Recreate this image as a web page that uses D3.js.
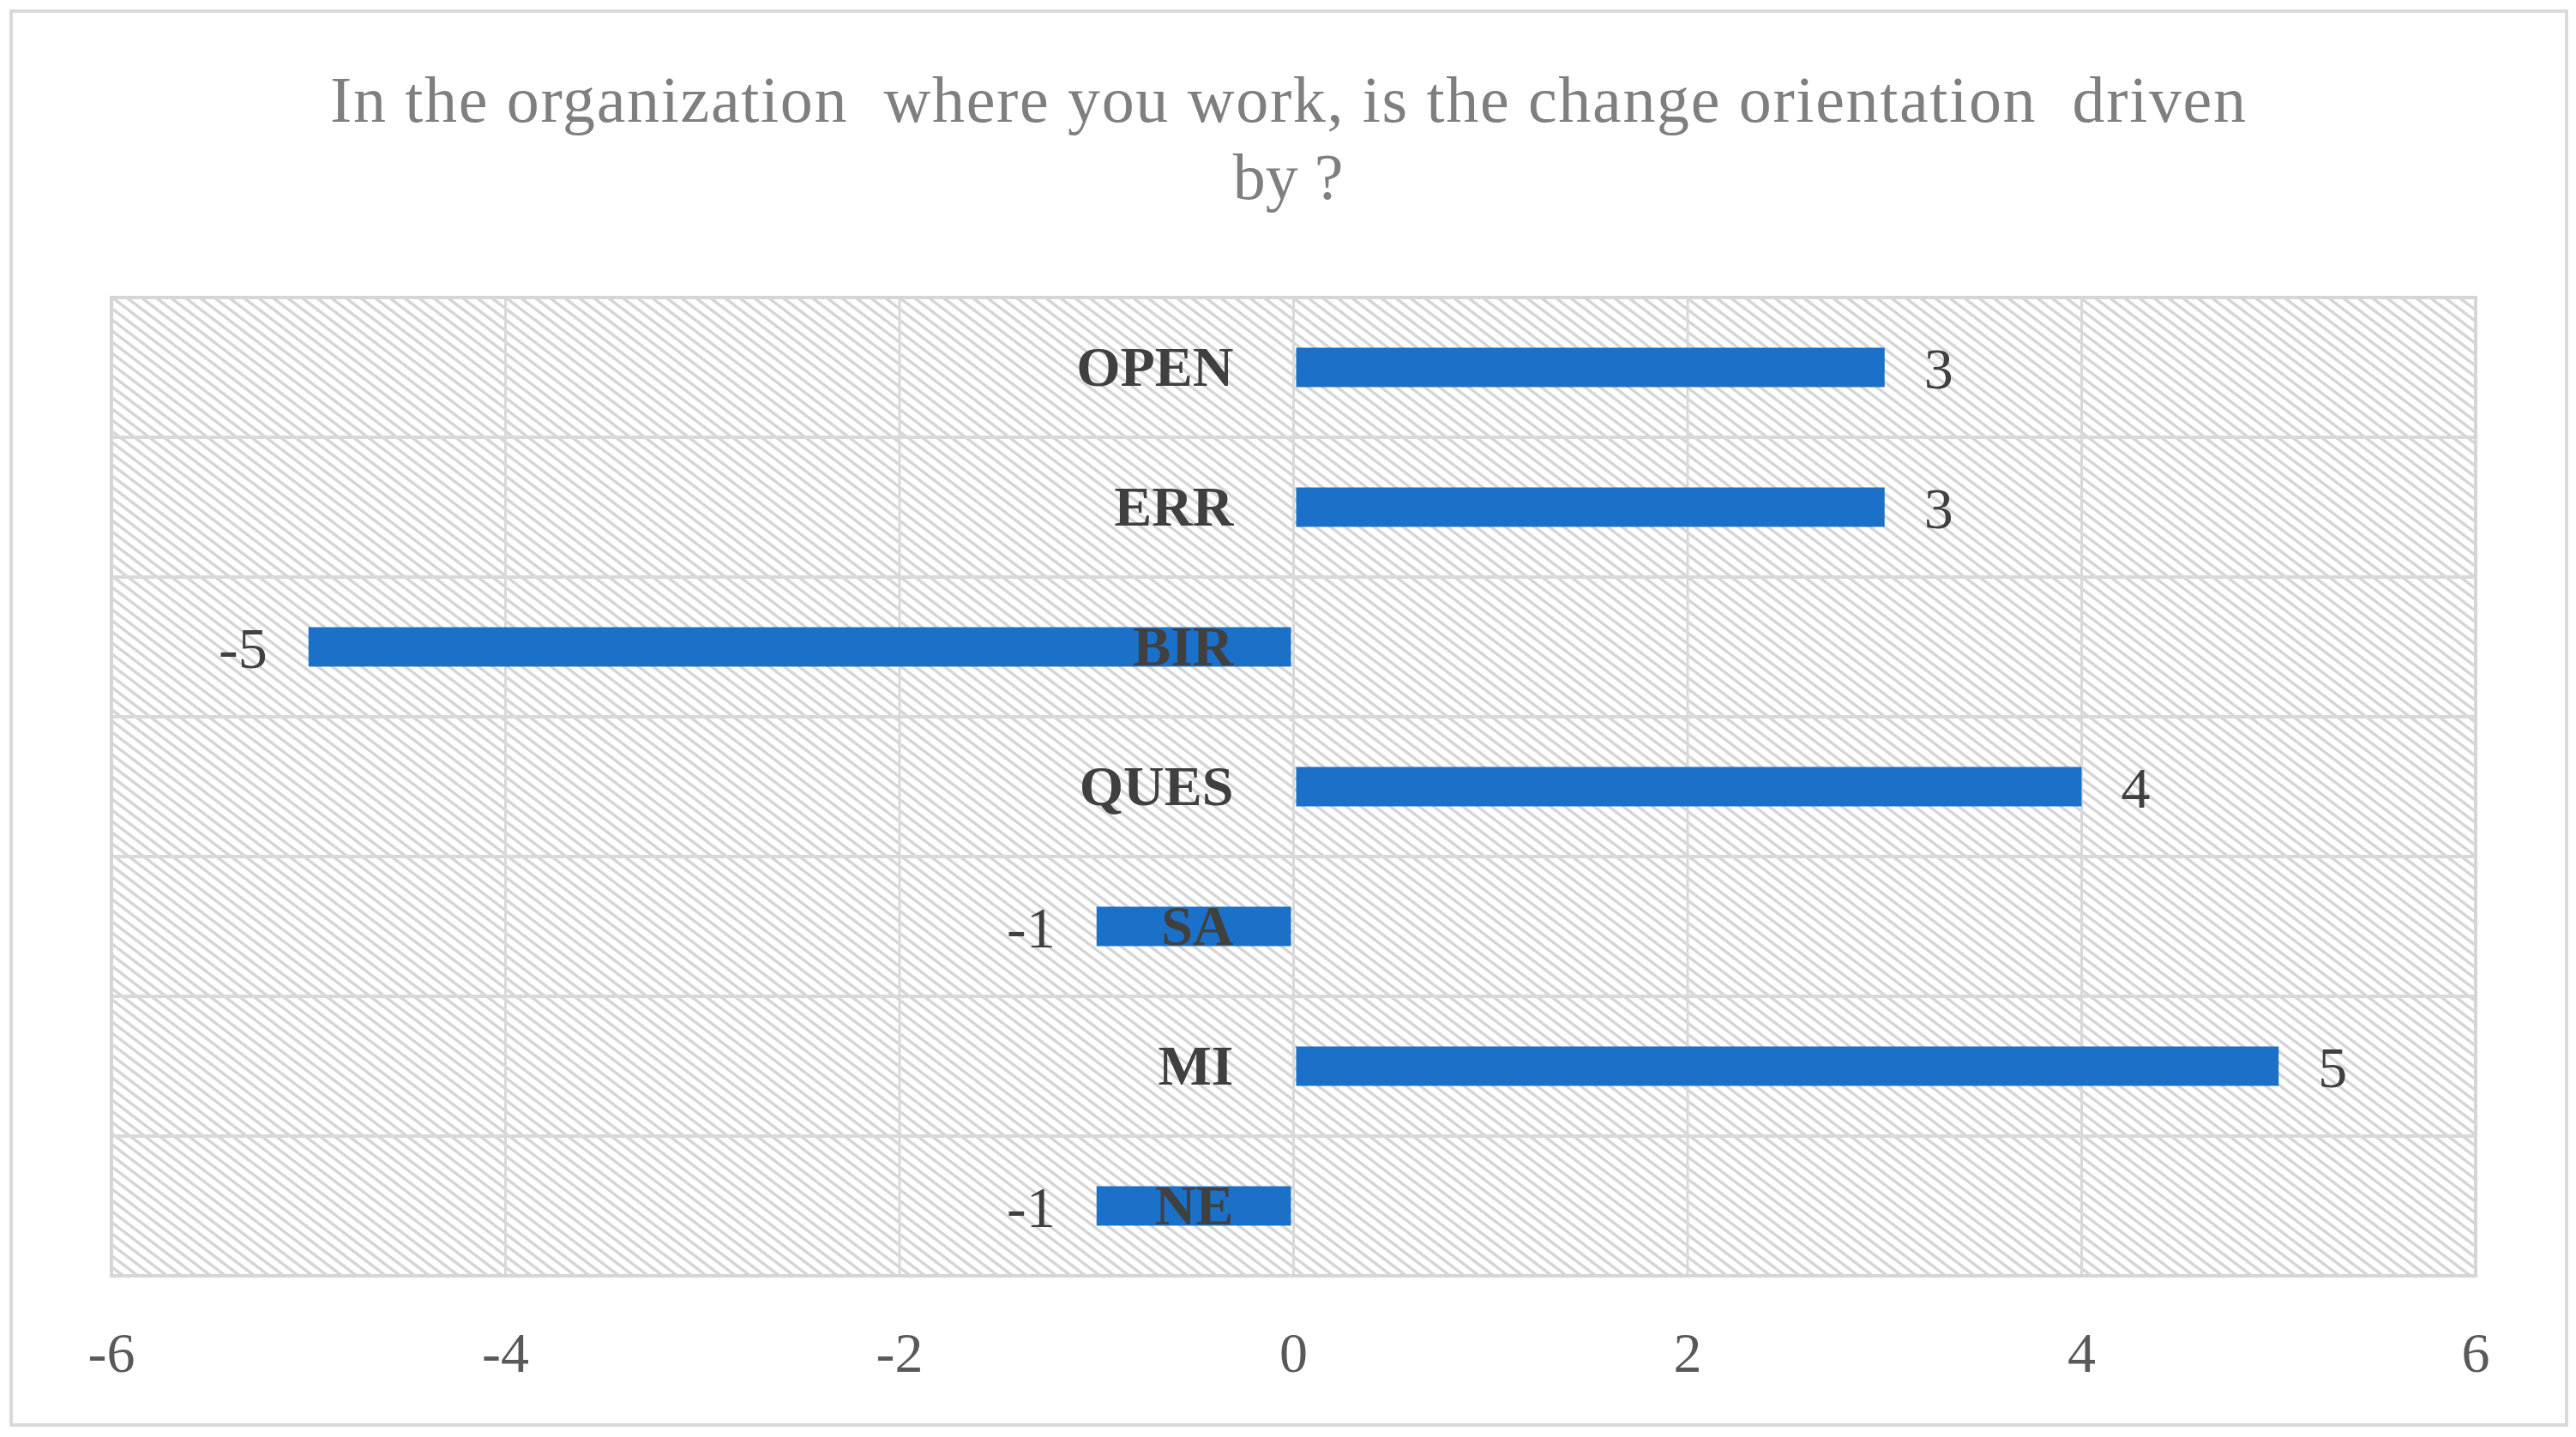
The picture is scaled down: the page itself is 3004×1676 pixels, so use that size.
<!DOCTYPE html>
<html>
<head>
<meta charset="utf-8">
<script src="https://cdn.jsdelivr.net/npm/d3@7"></script>
<style>
  html, body { margin: 0; padding: 0; background: #ffffff; }
  svg { display: block; }
</style>
</head>
<body>
<svg id="chart" width="3004" height="1676"></svg>
<script>
// ---- data ----
const categories = ["OPEN", "ERR", "BIR", "QUES", "SA", "MI", "NE"];
const values = [3, 3, -5, 4, -1, 5, -1];
const xTicks = [-6, -4, -2, 0, 2, 4, 6];
const titleLines = ["In the organization  where you work, is the change orientation  driven", "by ?"];

// ---- layout ----
const W = 3004, H = 1676;
const plot = { left: 130, right: 2887, top: 347, bottom: 1488 };
const serif = "'Palatino Linotype', 'Book Antiqua', Palatino, 'Liberation Serif', serif";

const svg = d3.select("#chart");

// pattern
const defs = svg.append("defs");
const pw = 17, ph = 13;
const pat = defs.append("pattern")
  .attr("id", "hatch").attr("patternUnits", "userSpaceOnUse")
  .attr("width", pw).attr("height", ph);
pat.append("rect").attr("width", pw).attr("height", ph).attr("fill", "#ffffff");
[-1, 0, 1].forEach(n => {
  pat.append("line")
    .attr("x1", -2).attr("y1", (ph / pw) * -2 + n * ph)
    .attr("x2", pw + 2).attr("y2", (ph / pw) * (pw + 2) + n * ph)
    .attr("stroke", "#d6d6d6").attr("stroke-width", 3.5);
});

// outer frame
svg.append("rect")
  .attr("x", 13).attr("y", 13).attr("width", 2980).attr("height", 1649)
  .attr("fill", "#ffffff").attr("stroke", "#d9d9d9").attr("stroke-width", 4);

// scales
const x = d3.scaleLinear().domain([-6, 6]).range([plot.left, plot.right]);
const y = d3.scaleBand().domain(categories).range([plot.top, plot.bottom])
  .paddingInner(0.718).paddingOuter(0.359);
const step = y.step();

// plot background
svg.append("rect")
  .attr("x", plot.left).attr("y", plot.top)
  .attr("width", plot.right - plot.left).attr("height", plot.bottom - plot.top)
  .attr("fill", "url(#hatch)");

// vertical gridlines
svg.append("g").selectAll("line").data(xTicks).join("line")
  .attr("x1", d => x(d)).attr("x2", d => x(d))
  .attr("y1", plot.top).attr("y2", plot.bottom)
  .attr("stroke", "#d9d9d9").attr("stroke-width", 3);

// horizontal category separators
const seps = d3.range(categories.length + 1).map(i => plot.top + i * step);
svg.append("g").selectAll("line").data(seps).join("line")
  .attr("x1", plot.left).attr("x2", plot.right)
  .attr("y1", d => d).attr("y2", d => d)
  .attr("stroke", "#d9d9d9").attr("stroke-width", 4);

// plot border
svg.append("rect")
  .attr("x", plot.left).attr("y", plot.top)
  .attr("width", plot.right - plot.left).attr("height", plot.bottom - plot.top)
  .attr("fill", "none").attr("stroke", "#d6d6d6").attr("stroke-width", 4);

// bars
const data = categories.map((c, i) => ({ c, v: values[i] }));
svg.append("g").selectAll("rect").data(data).join("rect")
  .attr("x", d => d.v >= 0 ? x(0) + 3 : x(d.v))
  .attr("width", d => Math.abs(x(d.v) - x(0)) - 3)
  .attr("y", d => y(d.c))
  .attr("height", y.bandwidth())
  .attr("fill", "#1b70c8");

// category labels (drawn over bars)
svg.append("g").selectAll("text").data(categories).join("text")
  .attr("x", x(0) - 70)
  .attr("y", d => y(d) + y.bandwidth() / 2 + 21)
  .attr("text-anchor", "end")
  .attr("font-family", serif).attr("font-size", 66).attr("font-weight", "bold")
  .attr("fill", "#404040")
  .text(d => d);

// data labels
svg.append("g").selectAll("text").data(data).join("text")
  .attr("x", d => d.v >= 0 ? x(d.v) + 46 : x(d.v) - 48)
  .attr("y", d => y(d.c) + y.bandwidth() / 2 + 24)
  .attr("text-anchor", d => d.v >= 0 ? "start" : "end")
  .attr("font-family", serif).attr("font-size", 68)
  .attr("fill", "#404040")
  .text(d => d.v);

// x axis tick labels
svg.append("g").selectAll("text").data(xTicks).join("text")
  .attr("x", d => x(d))
  .attr("y", 1600)
  .attr("text-anchor", "middle")
  .attr("font-family", serif).attr("font-size", 66)
  .attr("fill", "#595959")
  .text(d => d < 0 ? "-" + Math.abs(d) : d);

// title
svg.append("g").selectAll("text").data(titleLines).join("text")
  .attr("x", 1502)
  .attr("y", (d, i) => 142 + i * 90)
  .attr("text-anchor", "middle")
  .attr("font-family", serif).attr("font-size", 76)
  .attr("fill", "#7f7f7f")
  .attr("textLength", (d, i) => i === 0 ? 2234 : null)
  .attr("lengthAdjust", "spacing")
  .style("white-space", "pre")
  .text(d => d);
</script>
</body>
</html>
